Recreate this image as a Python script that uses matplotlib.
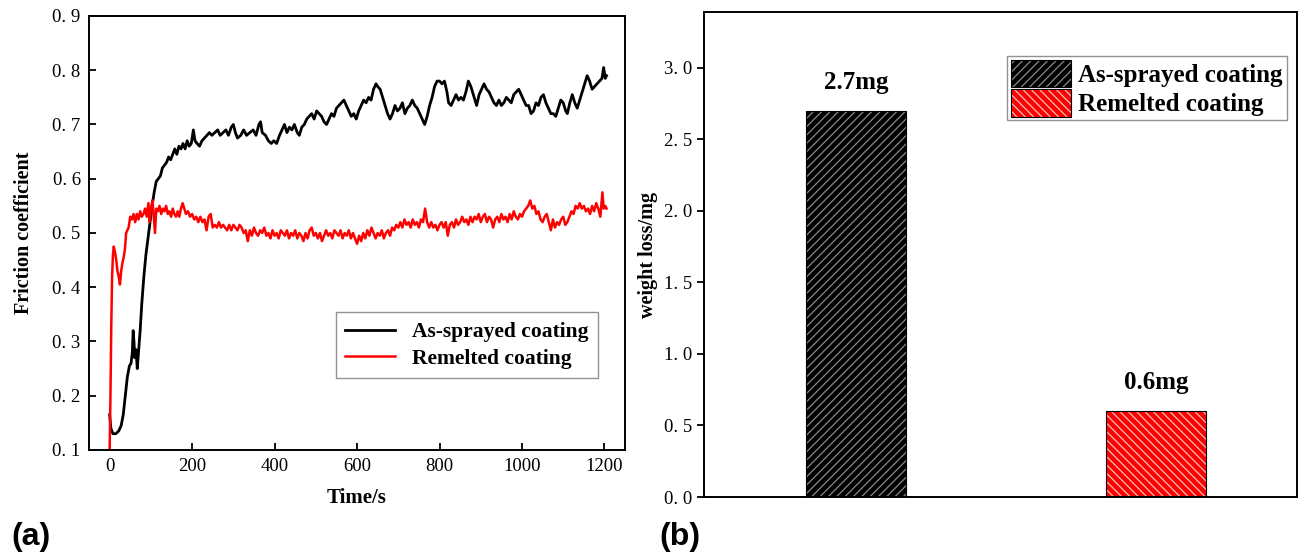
import matplotlib.pyplot as plt
from matplotlib.ticker import FuncFormatter
import numpy as np

# friction curve, as-sprayed coating (time in s, friction coefficient)
sprayed_time = [0, 3, 8, 15, 22, 28, 33, 38, 43, 48, 52, 55, 57, 59, 61, 64, 67, 70, 74, 78,
                83, 88, 93, 98, 103, 108, 113, 118, 123, 128, 133, 138, 143, 148, 153, 158, 163, 168, 173, 178,
                183, 188, 193, 198, 203, 207, 212, 218, 224, 230, 236, 242, 248, 255, 262, 268, 275, 282, 288, 295,
                300, 305, 310, 318, 325, 332, 340, 348, 355, 362, 366, 370, 378, 385, 392, 398, 405, 412, 418, 424,
                430, 436, 442, 448, 455, 460, 466, 472, 478, 484, 490, 496, 502, 508, 514, 520, 526, 532, 538, 544,
                550, 556, 562, 568, 574, 580, 586, 592, 598, 604, 610, 616, 622, 628, 634, 640, 646, 650, 656, 662,
                668, 674, 680, 686, 692, 698, 704, 710, 716, 722, 728, 734, 740, 746, 752, 758, 764, 770, 776, 782,
                788, 794, 800, 806, 812, 818, 822, 828, 834, 840, 846, 852, 858, 864, 870, 876, 880, 886, 890, 896,
                902, 908, 914, 920, 926, 932, 938, 944, 950, 956, 962, 968, 974, 980, 986, 992, 998, 1004, 1010, 1016,
                1022, 1028, 1034, 1040, 1046, 1052, 1058, 1064, 1070, 1076, 1082, 1088, 1094, 1100, 1106, 1110, 1116, 1122, 1128, 1134,
                1140, 1146, 1152, 1158, 1164, 1170, 1176, 1182, 1188, 1194, 1198, 1202, 1205]
sprayed_cof = [0.165, 0.14, 0.13, 0.13, 0.135, 0.145, 0.165, 0.20, 0.235, 0.255, 0.26, 0.28, 0.32, 0.30, 0.27, 0.285, 0.25, 0.28, 0.32, 0.37,
               0.42, 0.46, 0.49, 0.52, 0.55, 0.575, 0.595, 0.60, 0.605, 0.62, 0.625, 0.63, 0.64, 0.635, 0.645, 0.655, 0.645, 0.66, 0.655, 0.665,
               0.655, 0.67, 0.66, 0.665, 0.69, 0.67, 0.665, 0.66, 0.67, 0.675, 0.68, 0.685, 0.68, 0.685, 0.69, 0.68, 0.685, 0.69, 0.68, 0.695,
               0.70, 0.685, 0.675, 0.68, 0.69, 0.68, 0.685, 0.69, 0.68, 0.70, 0.705, 0.685, 0.68, 0.67, 0.665, 0.67, 0.665, 0.68, 0.69, 0.70,
               0.685, 0.695, 0.69, 0.70, 0.685, 0.68, 0.695, 0.70, 0.71, 0.715, 0.72, 0.71, 0.725, 0.72, 0.715, 0.705, 0.70, 0.71, 0.72, 0.715,
               0.73, 0.735, 0.74, 0.745, 0.735, 0.725, 0.715, 0.72, 0.71, 0.725, 0.735, 0.745, 0.74, 0.75, 0.745, 0.765, 0.775, 0.77, 0.765, 0.75,
               0.735, 0.72, 0.71, 0.72, 0.735, 0.725, 0.73, 0.74, 0.72, 0.73, 0.735, 0.745, 0.735, 0.73, 0.72, 0.71, 0.70, 0.715, 0.735, 0.75,
               0.77, 0.78, 0.78, 0.775, 0.78, 0.76, 0.74, 0.735, 0.745, 0.755, 0.745, 0.75, 0.745, 0.76, 0.78, 0.77, 0.76, 0.745, 0.735, 0.755,
               0.765, 0.775, 0.765, 0.76, 0.75, 0.74, 0.735, 0.745, 0.735, 0.74, 0.75, 0.745, 0.74, 0.755, 0.76, 0.765, 0.755, 0.745, 0.735, 0.735,
               0.72, 0.725, 0.74, 0.735, 0.75, 0.755, 0.74, 0.73, 0.72, 0.72, 0.715, 0.73, 0.745, 0.74, 0.725, 0.72, 0.74, 0.755, 0.74, 0.73,
               0.745, 0.76, 0.775, 0.79, 0.78, 0.765, 0.77, 0.775, 0.78, 0.785, 0.805, 0.785, 0.79]

# friction curve, remelted coating
remelt_time = [0, 2, 4, 6, 8, 10, 13, 16, 19, 22, 25, 28, 31, 34, 37, 40, 43, 46, 50, 54,
               58, 62, 66, 70, 74, 78, 82, 86, 90, 94, 97, 100, 104, 107, 110, 113, 117, 121, 125, 129,
               133, 137, 141, 145, 149, 153, 157, 161, 165, 169, 173, 177, 181, 185, 190, 195,
               200, 205, 210, 215, 220, 225, 230, 235, 240, 245, 250, 255, 260, 265, 270, 275, 280, 285, 290, 295,
               300, 305, 310, 315, 320, 325, 330, 335, 340, 345, 350, 355, 360, 365, 370, 375, 380, 385, 390, 395,
               400, 405, 410, 415, 420, 425, 430, 435, 440, 445, 450, 455, 460, 465, 470, 475, 480, 485, 490, 495,
               500, 505, 510, 515, 520, 525, 530, 535, 540, 545, 550, 555, 560, 565, 570, 575, 580, 585, 590, 595,
               600, 605, 610, 615, 620, 625, 630, 635, 640, 645, 650, 655, 660, 665, 670, 675, 680, 685, 690, 695,
               700, 705, 710, 715, 720, 725, 730, 735, 740, 745, 750, 755, 760, 765, 770, 775, 780, 785, 790, 795,
               800, 805, 810, 815, 820, 825, 830, 835, 840, 845, 850, 855, 860, 865, 870, 875, 880, 885, 890, 895,
               900, 905, 910, 915, 920, 925, 930, 935, 940, 945, 950, 955, 960, 965, 970, 975, 980, 985, 990, 995,
               1000, 1005, 1010, 1015, 1020, 1025, 1030, 1035, 1040, 1045, 1050, 1055, 1060, 1065, 1070, 1075, 1080, 1085, 1090, 1095,
               1100, 1105, 1110, 1115, 1120, 1125, 1130, 1135, 1140, 1145, 1150, 1155, 1160, 1165, 1170, 1175, 1180, 1185, 1190, 1195,
               1198, 1202, 1205]
remelt_cof = [0.10, 0.20, 0.33, 0.42, 0.46, 0.475, 0.465, 0.45, 0.43, 0.42, 0.405, 0.43, 0.445, 0.455, 0.47, 0.50, 0.505, 0.51, 0.53, 0.525,
              0.535, 0.52, 0.535, 0.525, 0.54, 0.53, 0.535, 0.545, 0.53, 0.555, 0.52, 0.545, 0.56, 0.53, 0.50, 0.545, 0.54, 0.55, 0.535, 0.545,
              0.54, 0.55, 0.535, 0.54, 0.53, 0.545, 0.535, 0.53, 0.54, 0.53, 0.545, 0.555, 0.545, 0.535, 0.54, 0.53,
              0.535, 0.525, 0.53, 0.52, 0.53, 0.52, 0.525, 0.505, 0.53, 0.535, 0.51, 0.515, 0.51, 0.52, 0.51, 0.515, 0.51, 0.505, 0.515, 0.505,
              0.515, 0.51, 0.505, 0.515, 0.51, 0.50, 0.505, 0.485, 0.505, 0.495, 0.51, 0.50, 0.495, 0.505, 0.50, 0.51, 0.495, 0.50, 0.49, 0.505,
              0.495, 0.50, 0.49, 0.505, 0.50, 0.495, 0.505, 0.49, 0.50, 0.495, 0.505, 0.49, 0.50, 0.495, 0.485, 0.50, 0.49, 0.505, 0.51, 0.495,
              0.50, 0.49, 0.50, 0.485, 0.495, 0.505, 0.495, 0.50, 0.49, 0.505, 0.50, 0.495, 0.505, 0.49, 0.50, 0.495, 0.505, 0.49, 0.50, 0.49,
              0.48, 0.495, 0.485, 0.50, 0.49, 0.505, 0.495, 0.51, 0.50, 0.49, 0.50, 0.495, 0.505, 0.49, 0.50, 0.505, 0.495, 0.51, 0.505, 0.515,
              0.51, 0.52, 0.51, 0.525, 0.515, 0.52, 0.51, 0.525, 0.515, 0.52, 0.51, 0.525, 0.52, 0.545, 0.52, 0.51, 0.52, 0.51, 0.515, 0.505,
              0.515, 0.52, 0.51, 0.52, 0.495, 0.515, 0.52, 0.51, 0.525, 0.515, 0.52, 0.53, 0.52, 0.525, 0.515, 0.53, 0.52, 0.53, 0.525, 0.535,
              0.52, 0.53, 0.535, 0.52, 0.53, 0.525, 0.51, 0.525, 0.53, 0.52, 0.535, 0.525, 0.53, 0.52, 0.535, 0.525, 0.54, 0.53, 0.525, 0.535,
              0.53, 0.54, 0.545, 0.55, 0.56, 0.545, 0.55, 0.535, 0.54, 0.525, 0.52, 0.53, 0.535, 0.52, 0.505, 0.525, 0.51, 0.52, 0.515, 0.525,
              0.53, 0.515, 0.52, 0.53, 0.54, 0.535, 0.55, 0.545, 0.555, 0.545, 0.55, 0.54, 0.545, 0.535, 0.55, 0.54, 0.555, 0.545, 0.53, 0.575,
              0.545, 0.55, 0.545]

coatings = ['As-sprayed coating', 'Remelted coating']
weight_loss = [2.7, 0.6]
bar_labels = ['2.7mg', '0.6mg']

serif = ['Liberation Serif', 'DejaVu Serif']
plt.rcParams['font.family'] = serif
plt.rcParams['hatch.linewidth'] = 0.9


def spaced(v, pos):
    # tick labels in the original look like "0. 9"
    return f'{v:.1f}'.replace('.', '. ')


fig = plt.figure(figsize=(13.11, 5.59), dpi=100)

# ---- (a) friction coefficient ----
ax1 = fig.add_axes([0.0679, 0.195, 0.4089, 0.7764])
ax1.plot(sprayed_time, sprayed_cof, color='black', lw=2.0, label=coatings[0])
ax1.plot(remelt_time, remelt_cof, color='red', lw=1.8, label=coatings[1])
ax1.set_xlim(-50, 1250)
ax1.set_ylim(0.1, 0.9)
ax1.set_xticks(np.arange(0, 1201, 200))
ax1.set_yticks(np.arange(0.1, 0.91, 0.1))
ax1.yaxis.set_major_formatter(FuncFormatter(spaced))
ax1.tick_params(direction='in', length=5, width=1.3, labelsize=13.5, pad=6)
for s in ax1.spines.values():
    s.set_linewidth(1.4)
ax1.set_xlabel('Time/s', fontsize=15, fontweight='bold', labelpad=9)
ax1.set_ylabel('Friction coefficient', fontsize=14.5, fontweight='bold', labelpad=13)
leg1 = ax1.legend(loc='lower left', bbox_to_anchor=(0.44, 0.14), fancybox=False,
                  edgecolor='#777777', prop={'weight': 'bold', 'size': 15.5},
                  handlelength=2.3, borderpad=0.45, labelspacing=0.3)
leg1.get_frame().set_linewidth(1.0)

# ---- (b) weight loss ----
ax2 = fig.add_axes([0.537, 0.1109, 0.4523, 0.8676])
x = np.arange(len(coatings))
faces = ['black', 'red']
hcols = ['#8a8a8a', '#f6c0c0']
hatches = ['////', '\\\\\\\\']
handles = []
for i in range(len(coatings)):
    h = ax2.bar(x[i], weight_loss[i], width=0.335, color=faces[i], edgecolor=hcols[i],
                hatch=hatches[i], linewidth=0)
    b = ax2.bar(x[i], weight_loss[i], width=0.335, fill=False, edgecolor='black', linewidth=0.8)
    handles.append((h, b))
    ax2.text(x[i], weight_loss[i] + 0.12, bar_labels[i], ha='center', va='bottom',
             fontsize=18, fontweight='bold')
ax2.set_xlim(-0.507, 1.47)
ax2.set_ylim(0, 3.39)
ax2.set_xticks([])
ax2.set_yticks(np.arange(0, 3.01, 0.5))
ax2.yaxis.set_major_formatter(FuncFormatter(spaced))
ax2.tick_params(axis='y', direction='out', length=5, width=1.3, labelsize=13.5)
for s in ax2.spines.values():
    s.set_linewidth(1.4)
ax2.set_ylabel('weight loss/mg', fontsize=14.5, fontweight='bold', labelpad=4)
leg2 = ax2.legend(handles, coatings, loc='upper right', bbox_to_anchor=(0.995, 0.925),
                  fancybox=False, edgecolor='#777777', prop={'weight': 'bold', 'size': 18},
                  handlelength=2.4, handleheight=1.3, handletextpad=0.3,
                  borderpad=0.15, labelspacing=0.1, borderaxespad=0.3)
leg2.get_frame().set_linewidth(1.0)

fig.text(0.009, 0.025, '(a)', fontsize=23, fontweight='bold', family=['Liberation Sans', 'DejaVu Sans'])
fig.text(0.503, 0.025, '(b)', fontsize=23, fontweight='bold', family=['Liberation Sans', 'DejaVu Sans'])

fig.savefig('out.png', dpi=100)
